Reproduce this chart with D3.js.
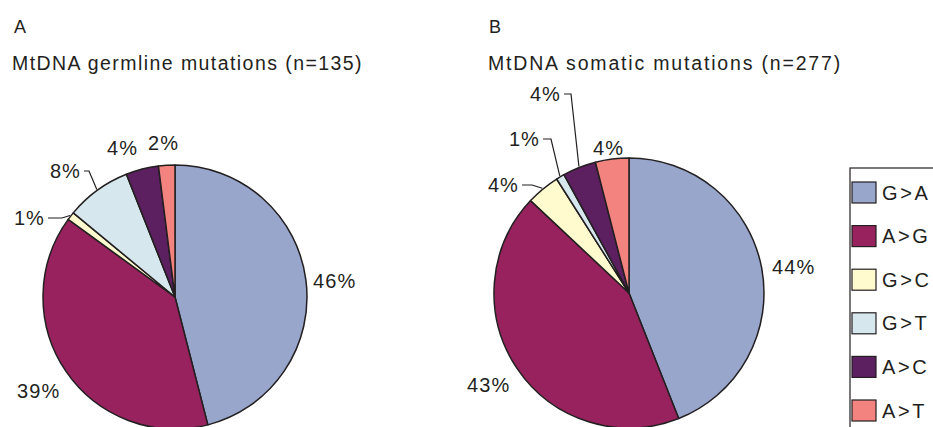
<!DOCTYPE html>
<html>
<head>
<meta charset="utf-8">
<script src="https://cdn.jsdelivr.net/npm/d3@7"></script>
<style>
  body { margin: 0; background: #fff; }
  svg { display: block; }
  text { font-family: "Liberation Sans", Arial, sans-serif; fill: #231f20; }
</style>
</head>
<body>
<svg id="chart" width="933" height="427"></svg>
<script>
// Mutation classes, in slice order (clockwise from 12 o'clock)
const mutationTypes = ["G>A", "A>G", "G>C", "G>T", "A>C", "A>T"];
const typeColors = ["#98a6cc", "#97225e", "#fffbcf", "#d6e7ee", "#5c1f5f", "#f3837f"];

// Share of each mutation class, in percent
const germlinePercent = [46, 39, 1, 8, 4, 2];
const somaticPercent = [44, 43, 4, 1, 4, 4];

const panelLetters = ["A", "B"];
const panelTitles = ["MtDNA germline mutations (n=135)", "MtDNA somatic mutations (n=277)"];

// Panel geometry and hand-placed label spots (x, baseline y, anchor, elbow x for leader lines)
const panels = [
  {
    values: germlinePercent, cx: 175, cy: 297, r: 132, titleX: 12, titleW: 351, letterX: 14,
    labels: [
      { x: 313, y: 288, anchor: "start" },
      { x: 17, y: 398, anchor: "start" },
      { x: 45, y: 225, anchor: "end", elbow: 62 },
      { x: 81, y: 178, anchor: "end", elbow: 89 },
      { x: 107, y: 155, anchor: "start" },
      { x: 148, y: 150, anchor: "start" }
    ]
  },
  {
    values: somaticPercent, cx: 629, cy: 293, r: 135, titleX: 488, titleW: 354, letterX: 489,
    labels: [
      { x: 772, y: 274, anchor: "start" },
      { x: 467, y: 392, anchor: "start" },
      { x: 519, y: 192, anchor: "end", elbow: 532 },
      { x: 540, y: 146, anchor: "end", elbow: 551 },
      { x: 561, y: 101, anchor: "end", elbow: 571 },
      { x: 593, y: 155, anchor: "start" }
    ]
  }
];

const svg = d3.select("#chart");
const color = d3.scaleOrdinal().domain(mutationTypes).range(typeColors);
const pie = d3.pie().sort(null).value(d => d.value);
const ink = "#231f20";

panels.forEach((p, pi) => {
  // panel letter and title
  svg.append("text")
    .attr("x", p.letterX).attr("y", 33)
    .attr("font-size", 18)
    .text(panelLetters[pi]);
  const title = svg.append("text")
    .attr("x", p.titleX).attr("y", 70)
    .attr("font-size", 19.5)
    .text(panelTitles[pi]);
  // spread the title letters out to its set width
  const natural = title.node().getComputedTextLength();
  const n = panelTitles[pi].length;
  title.attr("letter-spacing", Math.max(0, (p.titleW - natural) / n));

  const data = p.values.map((v, i) => ({ type: mutationTypes[i], value: v }));
  const arcs = pie(data);
  const arc = d3.arc().innerRadius(0).outerRadius(p.r);
  const rim = d3.arc().innerRadius(p.r + 1).outerRadius(p.r + 1);

  const g = svg.append("g").attr("transform", `translate(${p.cx},${p.cy})`);
  g.selectAll("path.slice")
    .data(arcs)
    .join("path")
    .attr("class", "slice")
    .attr("d", arc)
    .attr("fill", d => color(d.data.type))
    .attr("stroke", ink)
    .attr("stroke-width", 1.5)
    .attr("stroke-linejoin", "round");

  // percentage labels
  arcs.forEach((d, i) => {
    const L = p.labels[i];
    svg.append("text")
      .attr("x", L.x).attr("y", L.y)
      .attr("text-anchor", L.anchor)
      .attr("font-size", 20)
      .attr("letter-spacing", 1.1)
      .text(d.data.value + "%");
    if (L.elbow !== undefined) {
      const [ax, ay] = rim.centroid(d);
      const ly = L.y - 7;
      svg.append("path")
        .attr("d", `M${L.x + 3},${ly}H${L.elbow}L${p.cx + ax},${p.cy + ay}`)
        .attr("fill", "none")
        .attr("stroke", ink)
        .attr("stroke-width", 1.2);
    }
  });
});

// legend
const legend = svg.append("g").attr("transform", "translate(850,168)");
legend.append("rect")
  .attr("x", 0).attr("y", 0)
  .attr("width", 140).attr("height", 290)
  .attr("fill", "#fff")
  .attr("stroke", ink)
  .attr("stroke-width", 1.2);

const legendY = d3.scalePoint().domain(mutationTypes).range([24.5, 242.5]);
const items = legend.selectAll("g.item")
  .data(mutationTypes)
  .join("g")
  .attr("class", "item")
  .attr("transform", d => `translate(0,${legendY(d)})`);
items.append("rect")
  .attr("x", 2).attr("y", -10.5)
  .attr("width", 24).attr("height", 21)
  .attr("fill", d => color(d))
  .attr("stroke", ink)
  .attr("stroke-width", 1.2);
items.append("text")
  .attr("x", 32).attr("y", 7)
  .attr("font-size", 20)
  .attr("letter-spacing", 2.6)
  .text(d => d);
</script>
</body>
</html>
